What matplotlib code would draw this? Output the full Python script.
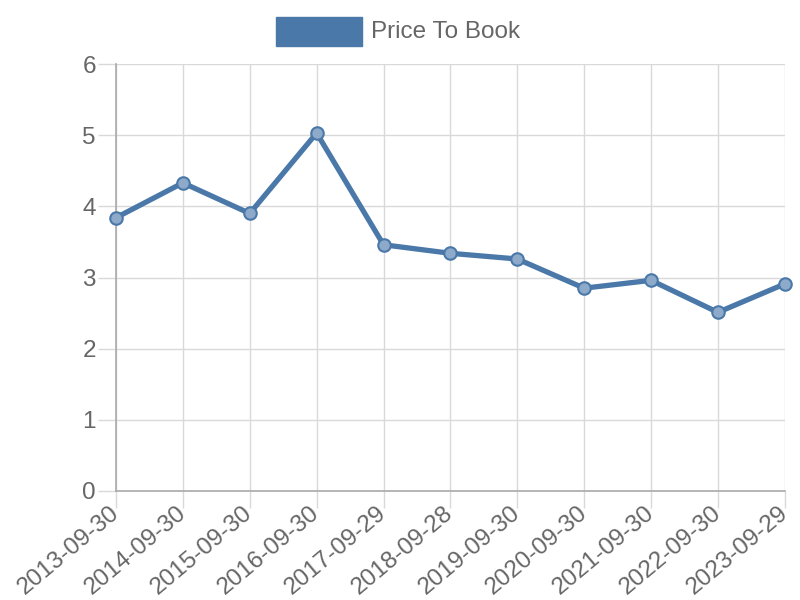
import matplotlib
matplotlib.use("Agg")
import matplotlib.pyplot as plt
from matplotlib.patches import Rectangle

dates = ["2013-09-30", "2014-09-30", "2015-09-30", "2016-09-30", "2017-09-29",
         "2018-09-28", "2019-09-30", "2020-09-30", "2021-09-30", "2022-09-30", "2023-09-29"]
price_to_book = [3.84, 4.33, 3.90, 5.03, 3.46, 3.34, 3.26, 2.85, 2.96, 2.51, 2.91]
series_label = "Price To Book"

plt.rcParams['font.family'] = ['Liberation Sans', 'DejaVu Sans']
color = "#4a78a8"
grey = "#666666"

fig = plt.figure(figsize=(8, 6), dpi=100)
ax = fig.add_axes([0.145, 0.1817, 0.836, 0.7116])
x = list(range(len(dates)))
ax.plot(x, price_to_book, color=color, linewidth=3.8, zorder=3, solid_capstyle='round', clip_on=False)
ax.plot(x, price_to_book, linestyle='none', marker='o', markersize=9, clip_on=False,
        markerfacecolor="#8eaacb", markeredgecolor=color, markeredgewidth=1.5, zorder=4)

ax.set_xlim(0, len(dates) - 1)
ax.set_ylim(0, 6)
ax.set_xticks(x)
ax.set_xticklabels(dates, rotation=40, ha='right', va='center', rotation_mode='anchor', fontsize=17.5)
ax.set_yticks(range(0, 7))
ax.grid(True, color="#d9d9d9", linewidth=1)
ax.set_axisbelow(True)
for s in ['top', 'right']:
    ax.spines[s].set_visible(False)
for s in ['left', 'bottom']:
    ax.spines[s].set_color("#aaaaaa")
    ax.spines[s].set_linewidth(1.2)
ax.tick_params(axis='both', colors="#d9d9d9", labelcolor=grey, width=1)
ax.tick_params(axis='y', labelsize=17.5, length=13, pad=1.5)
ax.tick_params(axis='x', length=12, pad=2)

# legend
fig.patches.append(Rectangle((276/800, 1-46/600), 86/800, 29/600, transform=fig.transFigure,
                             facecolor=color, edgecolor=color))
fig.text(371/800, 1-32/600, series_label, color=grey, fontsize=17.5, va='center', ha='left')

fig.savefig("out.png", dpi=100)
